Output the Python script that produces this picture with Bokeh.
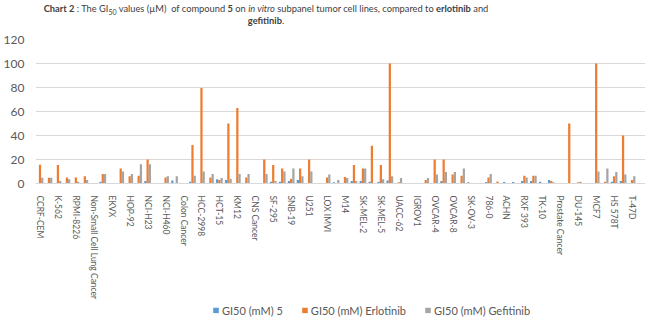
from bokeh.plotting import figure
from bokeh.models import (ColumnDataSource, Range1d, Legend, LegendItem, Div, FixedTicker)
from bokeh.layouts import column
from bokeh.transform import dodge
from bokeh.embed import file_html
from bokeh.resources import INLINE

categories = [
    "CCRF-CEM", "HL-60(TB)", "K-562", "MOLT-4", "RPMI-8226", "SR",
    "Non-Small Cell Lung Cancer", "A549/ATCC", "EKVX", "HOP-62", "HOP-92", "NCI-H226",
    "NCI-H23", "NCI-H322M", "NCI-H460", "NCI-H522",
    "Colon Cancer", "COLO 205", "HCC-2998", "HCT-116", "HCT-15", "HT29", "KM12", "SW-620",
    "CNS Cancer", "SF-268", "SF-295", "SF-539", "SNB-19", "SNB-75", "U251",
    "Melanoma", "LOX IMVI", "MALME-3M", "M14", "MDA-MB-435", "SK-MEL-2", "SK-MEL-28",
    "SK-MEL-5", "UACC-257", "UACC-62",
    "Ovarian Cancer", "IGROV1", "OVCAR-3", "OVCAR-4", "OVCAR-5", "OVCAR-8", "NCI/ADR-RES", "SK-OV-3",
    "Renal Cancer", "786-0", "A498", "ACHN", "CAKI-1", "RXF 393", "SN12C", "TK-10", "UO-31",
    "Prostate Cancer", "PC-3", "DU-145",
    "Breast Cancer", "MCF7", "MDA-MB-231/ATCC", "HS 578T", "BT-549", "T-47D", "MDA-MB-468",
]

gi50_compound5 = [
    0.5, 0.5, 0.5, 0.3, 0.3, 0.3,
    0, 1.5, 0.3, 0.5, 0.3, 0.5, 2, 0, 0.3, 2.5,
    0, 1.5, 0.5, 0.3, 3.5, 3, 0.5, 0.3,
    0, 0.5, 1.5, 1.5, 2, 3, 0.5,
    0, 0.5, 1, 0.5, 2, 2, 1.5, 1.5, 2.5, 0.5,
    0, 0.5, 0.3, 0.3, 2, 0.5, 0.3, 1,
    0, 1.2, 0, 1.2, 1.2, 2, 2, 1.5, 3,
    0, 0.5, 0.5,
    0, 0.5, 0.3, 1.5, 2, 0.5, 0.5,
]

gi50_erlotinib = [
    15.6, 4.7, 15.5, 5, 5, 6,
    0, 8, 0, 12.5, 6, 6.5, 20, 0, 5, 0.5,
    0, 32, 79.5, 5, 3, 50, 63, 5,
    0, 20, 15.5, 12.5, 4, 12.5, 20,
    0, 5, 0, 5.5, 15.5, 12.5, 31.5, 15.5, 100, 1,
    0, 0, 3, 20, 20, 7.5, 6.5, 0,
    0, 5, 1.7, 0, 0, 6.5, 6.5, 0, 2,
    0, 50, 1,
    0, 100, 1.5, 6, 40, 3, 0,
]

gi50_gefitinib = [
    4.7, 4.7, 2, 3.5, 1.5, 3,
    0, 8, 0.5, 10, 8, 16, 16, 0.5, 6, 6,
    0, 6.5, 10, 8, 4.5, 4, 8, 8,
    0, 8, 2, 10, 12.5, 6, 10,
    0, 7.5, 3, 4.5, 2, 12.5, 0, 3.5, 6, 4.5,
    0, 0, 4.5, 7.5, 9.5, 9.5, 12.5, 0.5,
    0, 8, 0, 0, 0, 5, 6.5, 0, 1,
    0, 0, 1.5,
    0, 10, 12.5, 9.5, 7.5, 6, 0.5,
]

y_ticks = [0, 20, 40, 60, 80, 100, 120]
series_names = ["GI50 (mM) 5", "GI50 (mM) Erlotinib", "GI50 (mM) Gefitinib"]
series_colors = ["#5B9BD5", "#ED7D31", "#A5A5A5"]
series_cols = ["c5", "erl", "gef"]
offsets = [-0.25, 0.0, 0.25]

idx = list(range(len(categories)))
source = ColumnDataSource(dict(idx=idx, cat=categories, c5=gi50_compound5,
                               erl=gi50_erlotinib, gef=gi50_gefitinib))

FONT = "Lato"
TXT = "#595959"

p = figure(x_range=Range1d(-0.5, len(categories) - 0.5),
           y_range=Range1d(0, 120),
           width=645, height=271, output_backend="svg", toolbar_location=None,
           min_border_left=23, min_border_right=0, min_border_top=7,
           min_border_bottom=120)

for off, col, color in zip(offsets, series_cols, series_colors):
    p.vbar(x=dodge("idx", off), top=col, width=0.25,
           source=source, color=color, line_color=None)

p.outline_line_color = None
p.background_fill_color = "white"
p.xgrid.grid_line_color = None
p.ygrid.grid_line_color = "#D9D9D9"
p.ygrid.ticker = FixedTicker(ticks=y_ticks)

p.yaxis.ticker = FixedTicker(ticks=y_ticks)
p.yaxis.axis_line_color = None
p.yaxis.major_tick_line_color = None
p.yaxis.minor_tick_line_color = None
p.yaxis.major_label_text_font = FONT
p.yaxis.major_label_text_font_size = "12px"
p.yaxis.major_label_text_color = TXT
p.yaxis.major_label_standoff = 5

p.xaxis.ticker = FixedTicker(ticks=idx[::2])
p.xaxis.major_label_overrides = {i: categories[i] for i in idx[::2]}
p.xaxis.axis_line_color = "#D9D9D9"
p.xaxis.major_tick_line_color = None
p.xaxis.minor_tick_line_color = None
p.xaxis.major_label_orientation = "vertical"
p.xaxis.major_label_text_font = FONT
p.xaxis.major_label_text_font_size = "8.5px"
p.xaxis.major_label_text_color = TXT
p.xaxis.major_label_standoff = 6

# legend strip below the chart (hidden copies of the series supply the legend glyphs)
pl = figure(width=645, height=14, x_range=Range1d(0, 1), y_range=Range1d(0, 1),
            x_axis_type=None, y_axis_type=None,
            output_backend="svg", toolbar_location=None, min_border=0)
pl.grid.visible = False
pl.outline_line_color = None
leg_renderers = [pl.vbar(x=dodge("idx", off), top=col, width=0.25, source=source,
                         color=c, line_color=None, visible=False)
                 for off, col, c in zip(offsets, series_cols, series_colors)]
legend = Legend(items=[LegendItem(label=n, renderers=[r]) for n, r in zip(series_names, leg_renderers)],
                orientation="horizontal", location="left",
                border_line_color=None, background_fill_alpha=0,
                inactive_fill_alpha=0,
                label_text_font=FONT, label_text_font_size="11px", label_text_color=TXT,
                glyph_width=7, glyph_height=7, spacing=18, padding=0, margin=177,
                label_standoff=3)
pl.add_layout(legend)

title_html = (
    '<div style="position:relative;top:-2px;width:522px;font-family:Lato;font-size:9.3px;'
    'line-height:11.5px;color:#404040;text-align:center;white-space:nowrap;">'
    '<b>Chart 2</b> : The GI<sub style="font-size:7px;line-height:0;">50</sub> values (&micro;M)&nbsp; '
    'of compound <b>5</b> on <i>in vitro</i> subpanel tumor cell lines, compared to '
    '<b>erlotinib</b> and<br><b>gefitinib</b>.</div>'
)
title = Div(text=title_html, width=522, height=22)

layout = column(title, p, pl)
open("out.html", "w").write(file_html(layout, INLINE))
